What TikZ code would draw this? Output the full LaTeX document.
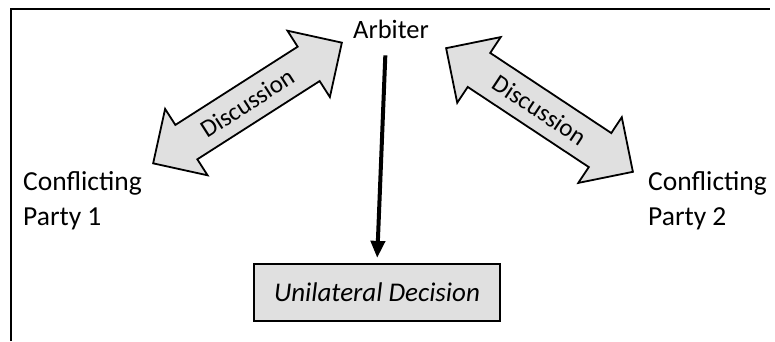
\documentclass[tikz,border=0pt]{standalone}
\usepackage{fontspec}
\setmainfont{Carlito}
\usetikzlibrary{positioning,shapes.arrows,arrows.meta}

\begin{document}
\begin{tikzpicture}[x=1pt,y=1pt,
    party/.style={align=left,inner sep=0pt,font=\fontsize{27.5}{35}\selectfont},
    talk/.style={double arrow,draw,line width=1.8pt,fill=black!12,
      double arrow head extend=19pt,minimum height=224pt,inner xsep=0pt,
      inner ysep=11pt,text height=17pt,text depth=0pt,
      font=\fontsize{25}{28}\selectfont}]
  \useasboundingbox (0,0) rectangle (775,341);
  % frame
  \draw[line width=2pt] (11,0) -- (11,332) -- (770,332);
  \node[anchor=base,inner sep=0pt,font=\fontsize{26.5}{30}\selectfont](arb) at (391,303){Arbiter};
  \node[party,anchor=base west](p1) at (23,116){Conflicting\\Party 1};
  \node[party,anchor=base west](p2) at (648,116){Conflicting\\Party 2};
  \node[draw,line width=2.2pt,fill=black!12,minimum width=246pt,minimum height=57pt,
    font=\fontsize{27}{30}\selectfont\itshape](dec) at (377,48.5){Unilateral Decision};
  % discussions
  \node[talk,rotate=32.6](d1) at (247.5,238){Discussion};
  \node[talk,rotate=-33.5](d2) at (539.5,231){Discussion};
  \draw[line width=4pt,-{Triangle[width=14pt,length=17pt]},shorten <=17pt,shorten >=5pt]
    ([xshift=-5pt]arb.south) -- (dec.north);
\end{tikzpicture}
\end{document}
